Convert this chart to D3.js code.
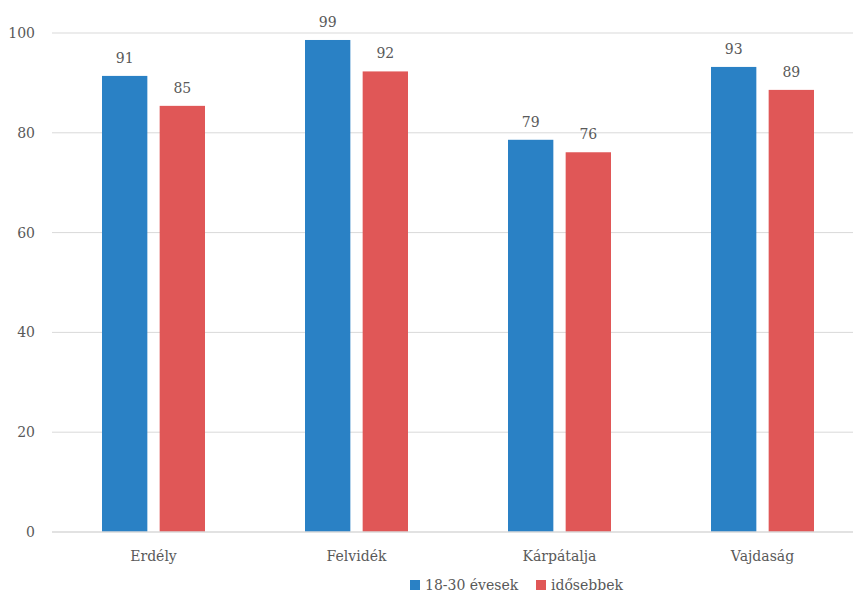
<!DOCTYPE html>
<html>
<head>
<meta charset="utf-8">
<script src="https://cdn.jsdelivr.net/npm/d3@7"></script>
<style>
  html, body { margin: 0; padding: 0; background: #fff; }
  svg { display: block; }
</style>
</head>
<body>
<svg id="chart" width="853" height="592"></svg>
<script>
// Regions and the two age groups
const categories = ["Erdély", "Felvidék", "Kárpátalja", "Vajdaság"];
const seriesNames = ["18-30 évesek", "idősebbek"];
const youngValues = [91.4, 98.6, 78.6, 93.2];
const olderValues = [85.4, 92.3, 76.1, 88.6];
const yTicks = [0, 20, 40, 60, 80, 100];
const colors = ["#2a81c5", "#e05757"];

const FONT = "'DejaVu Serif', 'Liberation Serif', serif";
const INK = "#595959";

const svg = d3.select("#chart");

const x = d3.scaleBand().domain(categories).range([52, 864]).paddingInner(0.4926).paddingOuter(0.2463);
const x1 = d3.scaleBand().domain(seriesNames).range([0, x.bandwidth()]).paddingInner(0.2135);
const y = d3.scaleLinear().domain([0, 100]).range([532, 33]);

const txt = sel => sel.attr("font-family", FONT).attr("fill", INK).attr("font-size", 14);

// Gridlines
svg.append("g").selectAll("line").data(yTicks.filter(t => t > 0)).join("line")
  .attr("x1", 52).attr("x2", 853)
  .attr("y1", d => y(d)).attr("y2", d => y(d))
  .attr("stroke", "#d9d9d9").attr("stroke-width", 1);

// Y tick labels
svg.append("g").selectAll("text").data(yTicks).join("text")
  .attr("x", 35).attr("y", d => y(d)).attr("dy", "0.35em")
  .attr("text-anchor", "end").call(txt)
  .text(d => d);

const rows = categories.map((c, i) => ({ cat: c, vals: [youngValues[i], olderValues[i]] }));

const groups = svg.append("g").selectAll("g").data(rows).join("g")
  .attr("transform", d => `translate(${x(d.cat)},0)`);

groups.selectAll("rect").data(d => d.vals.map((v, j) => ({ v, s: seriesNames[j], j }))).join("rect")
  .attr("x", d => x1(d.s)).attr("width", x1.bandwidth())
  .attr("y", d => y(d.v)).attr("height", d => y(0) - y(d.v))
  .attr("fill", d => colors[d.j]);

groups.selectAll("text.val").data(d => d.vals.map((v, j) => ({ v, s: seriesNames[j] }))).join("text")
  .attr("class", "val")
  .attr("x", d => x1(d.s) + x1.bandwidth() / 2).attr("y", d => y(d.v) - 13)
  .attr("text-anchor", "middle").call(txt)
  .text(d => d3.format(".0f")(d.v));

// Baseline axis
svg.append("line").attr("x1", 52).attr("x2", 853).attr("y1", y(0)).attr("y2", y(0))
  .attr("stroke", "#d9d9d9").attr("stroke-width", 1.5);

// Category labels
svg.append("g").selectAll("text").data(categories).join("text")
  .attr("x", d => x(d) + x.bandwidth() / 2).attr("y", 561)
  .attr("text-anchor", "middle").call(txt)
  .text(d => d);

// Legend
const legendX = [410, 536];
const legend = svg.append("g").selectAll("g").data(seriesNames).join("g")
  .attr("transform", (d, i) => `translate(${legendX[i]},580)`);
legend.append("rect").attr("width", 10).attr("height", 10).attr("fill", (d, i) => colors[i]);
legend.append("text").attr("x", 15).attr("y", 9.5).call(txt).text(d => d);
</script>
</body>
</html>
